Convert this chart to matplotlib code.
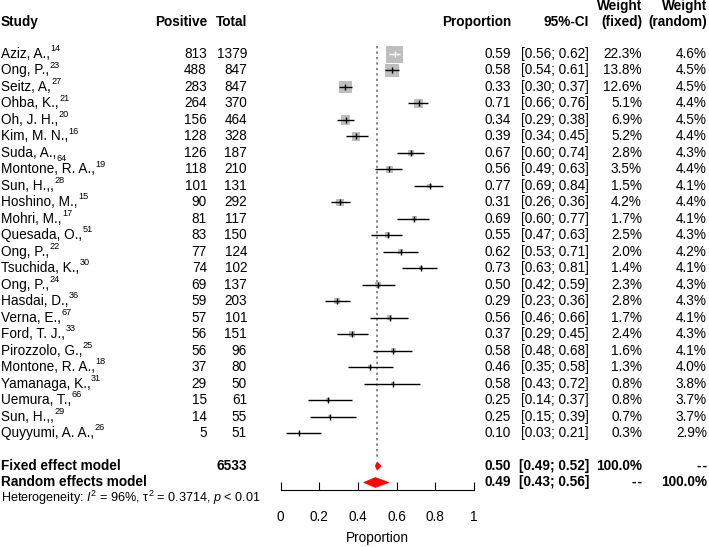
import matplotlib
matplotlib.use("Agg")
import matplotlib.pyplot as plt
import matplotlib.transforms as mtrans
import numpy as np

plt.rcParams['font.family'] = ['Liberation Sans', 'DejaVu Sans']
plt.rcParams['mathtext.fontset'] = 'custom'
plt.rcParams['mathtext.rm'] = 'Liberation Sans'
plt.rcParams['mathtext.it'] = 'Liberation Sans:italic'
plt.rcParams['mathtext.bf'] = 'Liberation Sans:bold'
plt.rcParams['mathtext.default'] = 'regular'

# ---------------- data ----------------
studies = ["Aziz, A.,", "Ong, P.,", "Seitz, A,", "Ohba, K.,", "Oh, J. H.,", "Kim, M. N.,",
           "Suda, A.,", "Montone, R. A.,", "Sun, H.,,", "Hoshino, M.,", "Mohri, M.,",
           "Quesada, O.,", "Ong, P.,", "Tsuchida, K.,", "Ong, P.,", "Hasdai, D.,",
           "Verna, E.,", "Ford, T. J.,", "Pirozzolo, G.,", "Montone, R. A.,",
           "Yamanaga, K.,", "Uemura, T.,", "Sun, H.,,", "Quyyumi, A. A.,"]
refs = ["14", "23", "27", "21", "20", "16", "64", "19", "28", "15", "17", "51",
        "22", "30", "24", "36", "67", "33", "25", "18", "31", "66", "29", "26"]
ref_sub = [False, False, False, False, False, False, True, False, False, False, False, False,
           False, False, False, False, False, False, False, False, False, False, False, False]
positive = [813, 488, 283, 264, 156, 128, 126, 118, 101, 90, 81, 83, 77, 74, 69, 59,
            57, 56, 56, 37, 29, 15, 14, 5]
total = [1379, 847, 847, 370, 464, 328, 187, 210, 131, 292, 117, 150, 124, 102, 137, 203,
         101, 151, 96, 80, 50, 61, 55, 51]
ci_low = [0.56, 0.54, 0.30, 0.66, 0.29, 0.34, 0.60, 0.49, 0.69, 0.26, 0.60, 0.47, 0.53,
          0.63, 0.42, 0.23, 0.46, 0.29, 0.48, 0.35, 0.43, 0.14, 0.15, 0.03]
ci_high = [0.62, 0.61, 0.37, 0.76, 0.38, 0.45, 0.74, 0.63, 0.84, 0.36, 0.77, 0.63, 0.71,
           0.81, 0.59, 0.36, 0.66, 0.45, 0.68, 0.58, 0.72, 0.37, 0.39, 0.21]
w_fixed = [22.3, 13.8, 12.6, 5.1, 6.9, 5.2, 2.8, 3.5, 1.5, 4.2, 1.7, 2.5, 2.0, 1.4, 2.3,
           2.8, 1.7, 2.4, 1.6, 1.3, 0.8, 0.8, 0.7, 0.3]
w_random = [4.6, 4.5, 4.5, 4.4, 4.5, 4.4, 4.3, 4.4, 4.1, 4.4, 4.1, 4.3, 4.2, 4.1, 4.3,
            4.3, 4.1, 4.3, 4.1, 4.0, 3.8, 3.7, 3.7, 2.9]
fixed_est, fixed_lo, fixed_hi = 0.50, 0.49, 0.52
random_est, random_lo, random_hi = 0.49, 0.43, 0.56
fixed_w_total, random_w_total = "100.0%", "100.0%"
total_n = 6533
het_text = r"Heterogeneity: $\mathit{I}^2$ = 96%, $\tau^2$ = 0.3714, $\mathit{p}$ < 0.01"
xticks = [0, 0.2, 0.4, 0.6, 0.8, 1]
xticklabels = ["0", "0.2", "0.4", "0.6", "0.8", "1"]
na_text = "-\u200a-"

# ---------------- layout ----------------
W, H = 709, 547
FS = 9.8
row_h = 16.48
y0 = 54.0
fig = plt.figure(figsize=(W / 100, H / 100), dpi=100)
ax = fig.add_axes([280.5 / W, 0, 193.5 / W, 1])
ax.set_xlim(0, 1)
ax.set_ylim((H - y0) / row_h, -y0 / row_h)
for s in ["top", "left", "right"]:
    ax.spines[s].set_visible(False)
ax.spines["bottom"].set_position(("data", 26.46))
ax.spines["bottom"].set_linewidth(0.8)
ax.set_yticks([])
ax.set_xticks(xticks)
ax.set_xticklabels(xticklabels, fontsize=FS)
ax.tick_params(axis="x", direction="in", length=6, width=0.8, pad=14.5)
ax.patch.set_visible(False)

n = len(studies)
rows = np.arange(n)
prop = np.array(positive) / np.array(total)
px_per_unit = 193.5

# reference line at fixed effect estimate
ax.plot([fixed_est, fixed_est], [-0.5, 24.6], color="#8A8A8A", lw=1.4,
        linestyle=(0, (1.2, 1.6)), zorder=1, clip_on=False)

# squares
side_px = 17.0 * np.sqrt(np.array(w_fixed) / max(w_fixed))
side_pt = side_px * 0.72
ax.scatter(prop, rows, s=side_pt ** 2, marker="s", color="#BEBEBE", edgecolors="none",
           zorder=2, clip_on=False)
for i in range(n):
    ci_px = (ci_high[i] - ci_low[i]) * px_per_unit
    col = "white" if ci_px < side_px[i] else "black"
    ax.plot([ci_low[i], ci_high[i]], [rows[i], rows[i]], color=col, lw=1.0, zorder=3,
            solid_capstyle="butt")
    ax.plot([prop[i]], [rows[i]], marker="|", markersize=4, color=col, mew=1.0, zorder=4)

# diamonds
def diamond(est, lo, hi, y, hh):
    ax.fill([lo, est, hi, est], [y, y - hh, y, y + hh], facecolor="red",
            edgecolor="red", lw=0.5, zorder=5, clip_on=False)

diamond(fixed_est, fixed_lo, fixed_hi, 25, 0.25)
diamond(random_est, random_lo, random_hi, 26, 0.3)

# ---------------- text columns ----------------
tr = mtrans.blended_transform_factory(fig.transFigure, ax.transData)

def txt(xpx, y, s, ha="right", bold=False, size=FS):
    return ax.text(xpx / W, y, s, transform=tr, ha=ha, va="center", fontsize=size,
                   fontweight="bold" if bold else "normal", clip_on=False)

X_STUDY, X_POS, X_TOT, X_PROP, X_CI, X_WF, X_WR = 1, 207, 247, 511, 589, 642, 707

# x-axis label
ax.text(0.5, 29.35, "Proportion", transform=ax.transData, ha="center", va="center",
        fontsize=FS)

# headers
hy = -1.94
txt(X_STUDY, hy, "Study", ha="left", bold=True)
txt(X_POS, hy, "Positive", bold=True)
txt(X_TOT, hy, "Total", bold=True)
txt(X_PROP, hy, "Proportion", bold=True)
txt(X_CI, hy, "95%-CI", bold=True)
txt(X_WF, hy, "(fixed)", bold=True)
txt(X_WR, hy, "(random)", bold=True)
txt(X_WF, hy - 0.97, "Weight", bold=True)
txt(X_WR, hy - 0.97, "Weight", bold=True)

for i in range(n):
    y = rows[i]
    t = txt(X_STUDY, y, studies[i], ha="left")
    if ref_sub[i]:
        ax.annotate(refs[i], xy=(1, 0.0), xycoords=t, xytext=(0.3, 1.0),
                    textcoords="offset points", ha="left", va="center", fontsize=6.6)
    else:
        ax.annotate(refs[i], xy=(1, 1.0), xycoords=t, xytext=(0.3, -1.2),
                    textcoords="offset points", ha="left", va="center", fontsize=6.6)
    txt(X_POS, y, f"{positive[i]}")
    txt(X_TOT, y, f"{total[i]}")
    txt(X_PROP, y, f"{prop[i]:.2f}")
    txt(X_CI, y, f"[{ci_low[i]:.2f}; {ci_high[i]:.2f}]")
    txt(X_WF, y, f"{w_fixed[i]:.1f}%")
    txt(X_WR, y, f"{w_random[i]:.1f}%")

# summary rows
txt(X_STUDY, 25, "Fixed effect model", ha="left", bold=True)
txt(X_TOT, 25, f"{total_n}", bold=True)
txt(X_PROP, 25, f"{fixed_est:.2f}", bold=True)
txt(X_CI, 25, f"[{fixed_lo:.2f}; {fixed_hi:.2f}]", bold=True)
txt(X_WF, 25, fixed_w_total, bold=True)
txt(X_WR, 25, na_text, bold=True)

txt(X_STUDY, 26, "Random effects model", ha="left", bold=True)
txt(X_PROP, 26, f"{random_est:.2f}", bold=True)
txt(X_CI, 26, f"[{random_lo:.2f}; {random_hi:.2f}]", bold=True)
txt(X_WF, 26, na_text, bold=True)
txt(X_WR, 26, random_w_total, bold=True)

txt(X_STUDY, 26.92, het_text, ha="left", size=9.1)

fig.savefig("out.png", dpi=100)
